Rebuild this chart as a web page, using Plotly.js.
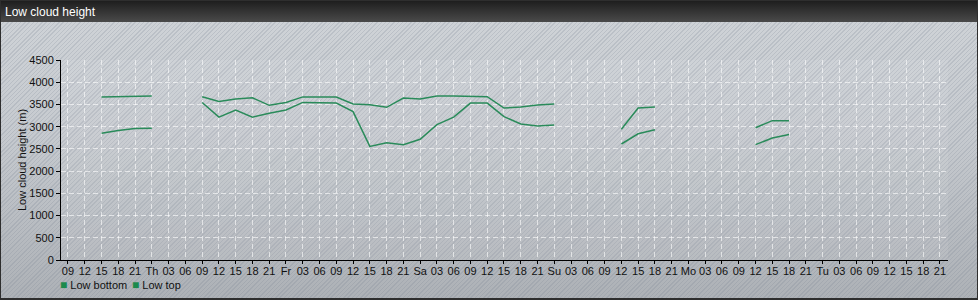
<!DOCTYPE html>
<html>
<head>
<meta charset="utf-8">
<script src="https://cdn.plot.ly/plotly-3.0.1.min.js"></script>
<style>
html,body{margin:0;padding:0;background:#9a9ea3;}
#wrap{position:relative;width:978px;height:300px;overflow:hidden;box-sizing:border-box;
 background:
  repeating-linear-gradient(135deg, rgba(120,130,145,0.22) 0px, rgba(120,130,145,0.22) 1px, rgba(255,255,255,0) 1px, rgba(255,255,255,0) 3px),
  linear-gradient(to bottom, #d0d4d8 0%, #c6cacf 45%, #adb1b6 100%);}
#bar{position:absolute;left:0;top:0;width:978px;height:22px;background:linear-gradient(to bottom,#1c1c1c,#4a4a4a);}
#frame{position:absolute;left:0;top:0;width:978px;height:300px;box-sizing:border-box;border:1px solid #2e2e2e;border-bottom:2px solid #2e2e2e;pointer-events:none;}
#chart{position:absolute;left:0;top:0;width:978px;height:300px;}
</style>
</head>
<body>
<div id="wrap"><div id="bar"></div><div id="chart"></div><div id="frame"></div></div>
<script>
// Observation times (3-hourly), Wed 2024-01-03 15:00 .. Mon 2024-01-08 18:00
var times = [
 '2024-01-03 15:00','2024-01-03 18:00','2024-01-03 21:00','2024-01-04 00:00',
 '2024-01-04 03:00','2024-01-04 06:00',
 '2024-01-04 09:00','2024-01-04 12:00','2024-01-04 15:00','2024-01-04 18:00','2024-01-04 21:00',
 '2024-01-05 00:00','2024-01-05 03:00','2024-01-05 06:00','2024-01-05 09:00','2024-01-05 12:00','2024-01-05 15:00','2024-01-05 18:00','2024-01-05 21:00',
 '2024-01-06 00:00','2024-01-06 03:00','2024-01-06 06:00','2024-01-06 09:00','2024-01-06 12:00','2024-01-06 15:00','2024-01-06 18:00','2024-01-06 21:00',
 '2024-01-07 00:00','2024-01-07 03:00','2024-01-07 06:00','2024-01-07 09:00','2024-01-07 12:00','2024-01-07 15:00','2024-01-07 18:00','2024-01-07 21:00',
 '2024-01-08 00:00','2024-01-08 03:00','2024-01-08 06:00','2024-01-08 09:00','2024-01-08 12:00','2024-01-08 15:00','2024-01-08 18:00'
];
var lowBottom = [
 2850,2915,2960,2965,
 null,null,
 3545,3215,3375,3215,3300,
 3375,3545,3545,3530,3340,2555,2640,2595,
 2715,3045,3215,3530,3530,3225,3060,3015,
 3035,null,null,null,2610,2840,2930,null,
 null,null,null,null,2595,2745,2825
];
var lowTop = [
 3670,3680,3690,3690,
 null,null,
 3675,3565,3620,3650,3480,
 3545,3670,3675,3665,3510,3495,3435,3645,
 3620,3690,3690,3680,3675,3420,3440,3485,
 3510,null,null,null,2940,3420,3440,null,
 null,null,null,null,2975,3135,3135
];
var seriesNames = ['Low bottom','Low top'];
var seriesColor = '#2a8b5a';
var legendColor = '#1c8a4c';
var tickLabels = ['09','12','15','18','21',
 'Th','03','06','09','12','15','18','21',
 'Fr','03','06','09','12','15','18','21',
 'Sa','03','06','09','12','15','18','21',
 'Su','03','06','09','12','15','18','21',
 'Mo','03','06','09','12','15','18','21',
 'Tu','03','06','09','12','15','18','21'];
var tickStart = '2024-01-03 09:00';
var yTicks = [0,500,1000,1500,2000,2500,3000,3500,4000,4500];

function pad(n){return (n<10?'0':'')+n;}
var t0 = new Date(tickStart.replace(' ','T')+'Z').getTime();
var tickVals = tickLabels.map(function(_,i){
  var d = new Date(t0 + i*3*3600*1000);
  return d.getUTCFullYear()+'-'+pad(d.getUTCMonth()+1)+'-'+pad(d.getUTCDate())+' '+pad(d.getUTCHours())+':00';
});

var fam = '"Liberation Sans", Arial, sans-serif';
var font = {family:fam, size:11, color:'#111'};
var traces = [
 {x:times, y:lowBottom, name:seriesNames[0], mode:'lines', line:{color:seriesColor,width:1.5}, connectgaps:false, hoverinfo:'x+y'},
 {x:times, y:lowTop, name:seriesNames[1], mode:'lines', line:{color:seriesColor,width:1.5}, connectgaps:false, hoverinfo:'x+y'}
];
// legend entries (square + name) placed under the axis
var legendX = [58, 130];
var annotations = seriesNames.map(function(n,i){
  return {text:'<span style="color:'+legendColor+';font-size:12px">■</span> '+n, showarrow:false,
    xref:'paper', yref:'paper', x:(legendX[i]-61)/887, y:(260-284.5)/200, xanchor:'left', yanchor:'middle',
    font:font, align:'left'};
});
var layout = {
 width:978, height:300,
 paper_bgcolor:'rgba(0,0,0,0)', plot_bgcolor:'rgba(255,255,255,0.07)',
 margin:{l:61, r:30, t:60, b:40},
 font:font,
 showlegend:false,
 annotations:annotations,
 title:{text:'Low cloud height', font:{family:fam, size:12, color:'#ffffff'},
   xref:'container', yref:'container', x:5/978, xanchor:'left', y:1-11.5/300, yanchor:'middle'},
 xaxis:{type:'date', range:['2024-01-03 07:45','2024-01-09 22:26'], tickmode:'array', tickvals:tickVals, ticktext:tickLabels,
   showline:true, linecolor:'#000', linewidth:1, ticks:'outside', ticklen:3, tickcolor:'#000', tickangle:0, ticklabelstandoff:-2,
   showgrid:true, gridcolor:'rgba(255,255,255,0.6)', griddash:'5px,3px', gridwidth:1, zeroline:false, tickfont:font, fixedrange:true, automargin:false},
 yaxis:{range:[0,4500], tickmode:'array', tickvals:yTicks, showline:true, linecolor:'#000', linewidth:1,
   ticks:'outside', ticklen:4, tickcolor:'#000', showgrid:true, gridcolor:'rgba(255,255,255,0.6)', griddash:'5px,3px', gridwidth:1,
   zeroline:false, tickfont:font, title:{text:'Low cloud height (m)', font:font, standoff:0}, automargin:false, fixedrange:true}
};
Plotly.newPlot('chart', traces, layout, {staticPlot:true, displayModeBar:false});
</script>
</body>
</html>
